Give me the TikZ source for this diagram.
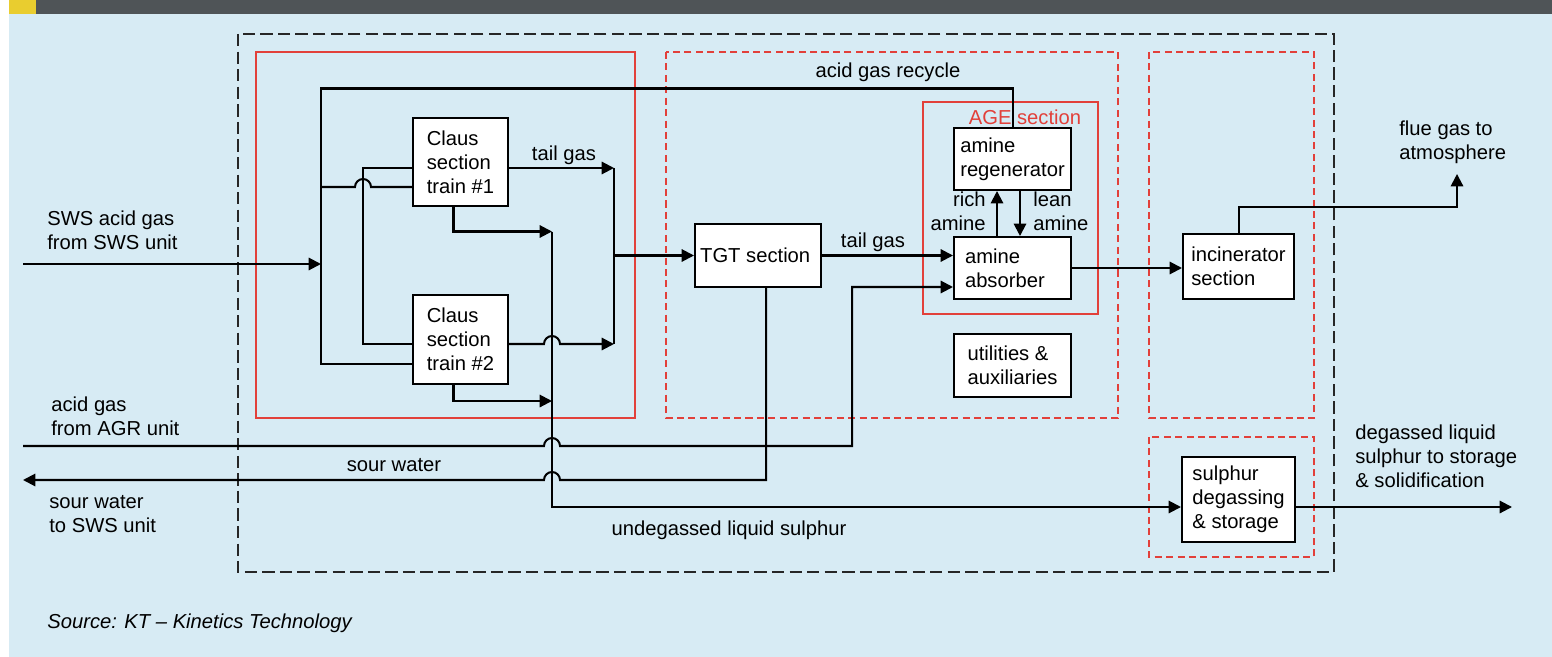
\documentclass[tikz,border=0pt]{standalone}
\usepackage{fontspec}
\setmainfont{Liberation Sans}
\usepackage{tikz}
\usetikzlibrary{arrows.meta, positioning}
\usepackage{xcolor}
\definecolor{bgblue}{HTML}{D7EBF4}
\definecolor{bargray}{HTML}{4F5457}
\definecolor{baryellow}{HTML}{E9CD2F}
\definecolor{frred}{HTML}{E2403A}

\begin{document}
\begin{tikzpicture}[
		font=\fontsize{11.5pt}{13.6pt}\selectfont,
		box/.style={
			rectangle,
			draw,
			fill=white,
			line width=1.15pt,
			align=left,
			inner sep=0pt
		},
		arrow/.style={
			-{Triangle[length=7pt,width=7pt]},
			line width=1.15pt
		},
		flowline/.style={line width=1.15pt},
		redbox/.style={draw=frred, line width=0.8pt},
		reddash/.style={draw=frred, line width=0.8pt, dash pattern=on 4pt off 2.5pt},
		plantbox/.style={draw=black!85, line width=1pt, dash pattern=on 7pt off 3pt},
		lbl/.style={inner sep=0pt}
		]
		\useasboundingbox (0,0) rectangle (31.04,-13.14);
		
		% bckgrnd
		\fill[white] (0,0) rectangle (31.04,-13.14);
		\fill[bgblue] (0.18,-0.28) rectangle (31.04,-13.14);
		\fill[bargray] (0.72,0) rectangle (31.04,-0.28);
		\fill[baryellow] (0.18,0) rectangle (0.72,-0.28);
		
		% frames
		\draw[plantbox] (4.76,-0.68) rectangle (26.68,-11.44);
		\draw[redbox] (5.12,-1.04) rectangle (12.70,-8.36);
		\draw[reddash] (13.32,-1.04) rectangle (22.36,-8.36);
		\draw[reddash] (22.98,-1.04) rectangle (26.28,-8.36);
		\draw[reddash] (22.98,-8.74) rectangle (26.28,-11.14);
		\draw[redbox] (18.46,-2.04) rectangle (21.96,-6.28);
		\node[lbl, text=frred, anchor=base] (agelbl) at (20.50,-2.50) {AGE section};
		
		% units
		\node[box, minimum width=1.9cm, minimum height=1.76cm] (claus1) at (9.21,-3.24) {
			Claus\\section\\train \#1
		};
		\node[box, minimum width=1.9cm, minimum height=1.78cm] (claus2) at (9.21,-6.79) {
			Claus\\section\\train \#2
		};
		\node[box, align=center, minimum width=2.52cm, minimum height=1.26cm] (tgt) at (15.16,-5.11) {
			TGT section
		};
		\node[box, minimum width=2.34cm, minimum height=1.24cm] (regen) at (20.25,-3.18) {
			amine\\regenerator
		};
		\node[box, text width=1.9cm, minimum width=2.34cm, minimum height=1.24cm] (absorber) at (20.25,-5.36) {
			amine\\absorber
		};
		\node[box, minimum width=2.34cm, minimum height=1.26cm] (utils) at (20.25,-7.31) {
			utilities \&\\auxiliaries
		};
		\node[box, minimum width=2.22cm, minimum height=1.3cm] (incin) at (24.77,-5.33) {
			incinerator\\section
		};
		\node[box, minimum width=2.26cm, minimum height=1.7cm] (sulph) at (24.77,-9.99) {
			sulphur\\degassing\\\& storage
		};
		
		% ends and junctions
		\coordinate (swsin) at (0.46,-5.28);
		\coordinate (agrin) at (0.46,-8.92);
		\coordinate (swout) at (0.46,-9.60);
		\coordinate (hdrtop) at (6.42,-1.77);
		\coordinate (mid) at (7.26,-5.00);
		\coordinate (sjoin) at (11.04,-4.63);
		\coordinate (tgjoin) at (12.28,-3.36);
		\coordinate (agrcorner) at (17.04,-8.92);
		\coordinate (flue) at (29.14,-3.48);
		\coordinate (sulphout) at (30.24,-10.14);
		\coordinate (c1a) at ([yshift=-0.12cm]claus1.west);
		\coordinate (c1b) at ([yshift=-0.50cm]claus1.west);
		\coordinate (c2a) at ([yshift=-0.09cm]claus2.west);
		\coordinate (c2b) at ([yshift=-0.49cm]claus2.west);
		
		% feed and recycle
		\draw[flowline] (regen.north) |- (hdrtop) |- (c2b);
		\draw[arrow] (swsin) -- (swsin -| hdrtop);
		\draw[flowline] (c1b -| hdrtop) -- ([xshift=-0.16cm]c1b -| mid)
			arc[start angle=180, end angle=0, radius=0.16cm] -- (c1b);
		\draw[flowline] (c1a) -- (c1a -| mid) -- (c2a -| mid) -- (c2a);
		%--
		\draw[arrow] ([yshift=-0.12cm]claus1.east) -- (tgjoin);
		\draw[arrow] ([yshift=-0.09cm]claus2.east) -- ([xshift=-0.16cm]c2a -| sjoin)
			arc[start angle=180, end angle=0, radius=0.16cm] -- (c2a -| tgjoin);
		\draw[flowline] (tgjoin) -- (tgjoin |- c2a);
		\draw[arrow] (tgjoin |- tgt.west) -- (tgt.west);
		%--
		\draw[arrow] ([xshift=-0.14cm]claus1.south) |- (sjoin);
		\draw[arrow] ([xshift=-0.14cm]claus2.south) |- ([yshift=-0.32cm]claus2.south -| sjoin);
		\draw[arrow] (sjoin) |- ([yshift=-0.15cm]sulph.west);
		\draw[arrow] ([yshift=-0.15cm]sulph.east) -- (sulphout);
		%--
		\draw[arrow] (agrin) -- ([xshift=-0.16cm]agrin -| sjoin)
			arc[start angle=180, end angle=0, radius=0.16cm] -- (agrcorner) |- ([yshift=-0.38cm]absorber.west);
		\draw[arrow] ([xshift=0.16cm]tgt.south) |- ([xshift=0.16cm]swout -| sjoin)
			arc[start angle=0, end angle=180, radius=0.16cm] -- (swout);
		%--
		\draw[arrow] (tgt.east) -- (tgt.east -| absorber.west);
		\draw[arrow] ([xshift=-0.31cm]absorber.north) -- ([xshift=-0.31cm]regen.south);
		\draw[arrow] ([xshift=0.15cm]regen.south) -- ([xshift=0.15cm]absorber.north);
		\draw[arrow] (absorber.east) -- (absorber.east -| incin.west);
		\draw[arrow] (incin.north) -- ++(0,0.52) -| (flue);
		
		% labels
		\node[lbl, anchor=west, align=left] (swslbl) at (0.94,-4.60) {SWS acid gas\\from SWS unit};
		\node[lbl, anchor=west, align=left] (agrlbl) at (1.02,-8.32) {acid gas\\from AGR unit};
		\node[lbl, anchor=west, align=left] (swoutlbl) at (0.98,-10.29) {sour water\\to SWS unit};
		\node[lbl, anchor=base] (swlbl) at (7.88,-9.42) {sour water};
		\node[lbl, anchor=base] (tail1lbl) at (11.28,-3.22) {tail gas};
		\node[lbl, anchor=base] (tail2lbl) at (17.46,-4.94) {tail gas};
		\node[lbl, anchor=base] (recyclbl) at (17.76,-1.56) {acid gas recycle};
		\node[lbl, anchor=east, align=right] (richlbl) at (19.72,-4.23) {rich\\amine};
		\node[lbl, anchor=west, align=left] (leanlbl) at (20.66,-4.23) {lean\\amine};
		\node[lbl, anchor=west, align=left] (fluelbl) at (27.98,-2.84) {flue gas to\\atmosphere};
		\node[lbl, anchor=base] (undeglbl) at (14.58,-10.70) {undegassed liquid sulphur};
		\node[lbl, anchor=west, align=left] (deglbl) at (27.10,-9.13) {degassed liquid\\sulphur to storage\\\& solidification};
		\node[lbl, anchor=base west] (srclbl) at (0.94,-12.56) {\itshape Source: KT -- Kinetics Technology};
		
	\end{tikzpicture}
\end{document}
